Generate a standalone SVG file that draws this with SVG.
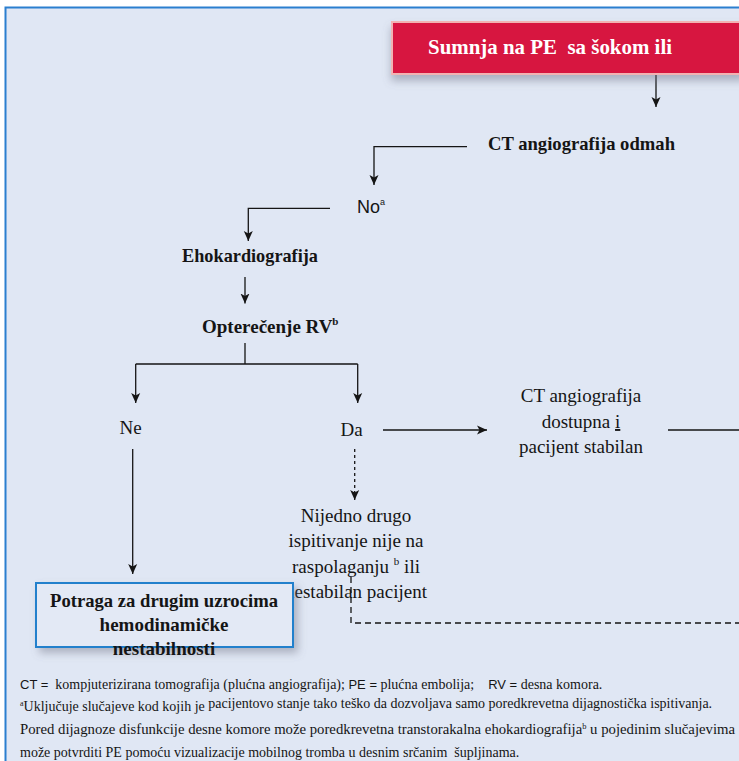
<svg xmlns="http://www.w3.org/2000/svg" width="739" height="761" viewBox="0 0 739 761">
<style>
.b{font-family:'Liberation Serif','DejaVu Serif','Noto Serif',serif;font-weight:bold;font-size:19px;fill:#151515}
.r{font-family:'Liberation Serif','DejaVu Serif','Noto Serif',serif;font-size:19px;fill:#151515}
.s{font-family:'Liberation Sans',Arial,sans-serif;fill:#151515}
.f{font-family:'Liberation Serif','DejaVu Serif','Noto Serif',serif;font-size:14px;fill:#151515}
.fs{font-family:'Liberation Sans',Arial,sans-serif;font-size:13px}
.ln{fill:none;stroke:#151515;stroke-width:1.3}
.ar{marker-end:url(#ah)}
</style>
<defs>
<marker id="ah" markerUnits="userSpaceOnUse" markerWidth="10" markerHeight="10" refX="10" refY="5" orient="auto">
<path d="M0,0.5 L10,5 L0,9.5 L2.5,5 z" fill="#151515"/>
</marker>
<filter id="sh1" x="-10%" y="-30%" width="130%" height="180%">
<feDropShadow dx="0" dy="6" stdDeviation="4" flood-color="#6a7080" flood-opacity="0.45"/>
</filter>
<filter id="sh2" x="-10%" y="-20%" width="130%" height="160%">
<feDropShadow dx="4" dy="5" stdDeviation="4" flood-color="#6a7080" flood-opacity="0.45"/>
</filter>
</defs>
<rect x="0" y="0" width="739" height="761" fill="#ffffff"/>
<rect id="panel" x="5.5" y="7.5" width="740" height="760" fill="#E0E7F4" stroke="#2B7FCF" stroke-width="2"/>

<g id="connectors">
<line class="ln ar" x1="656" y1="75" x2="656" y2="107"/>
<path class="ln ar" d="M467,146.7 H374 V185"/>
<path class="ln ar" d="M330,208.3 H248.3 V241"/>
<line class="ln ar" x1="245" y1="277" x2="245" y2="303.5"/>
<path class="ln" d="M245,343 V364 M135.7,364 H357.7"/>
<line class="ln ar" x1="135.7" y1="364" x2="135.7" y2="403"/>
<line class="ln ar" x1="357.7" y1="364" x2="357.7" y2="403"/>
<line class="ln ar" x1="383" y1="430" x2="487" y2="430"/>
<line class="ln" x1="668" y1="430" x2="739" y2="430"/>
<line class="ln ar" x1="354.7" y1="449" x2="354.7" y2="500" stroke-dasharray="3,3"/>
<line class="ln ar" x1="132.7" y1="449" x2="132.7" y2="574"/>
<path class="ln" d="M351,577 V623 H739" stroke-dasharray="6,4"/>
</g>

<g id="n-start">
<rect x="392" y="22" width="352" height="52" fill="#D7163F" stroke="#F2B3B3" stroke-width="2" filter="url(#sh1)"/>
<text class="b" x="428" y="54" style="fill:#ffffff;font-size:22px" textLength="244" lengthAdjust="spacingAndGlyphs">Sumnja na PE&#160; sa šokom ili</text>
</g>

<g id="n-ct-odmah">
<text class="b" x="488" y="150" textLength="187" lengthAdjust="spacingAndGlyphs">CT angiografija odmah</text>
</g>

<g id="n-no">
<text class="s" x="357" y="213" font-size="18">No<tspan font-size="9" dy="-8">a</tspan></text>
</g>

<g id="n-eho">
<text class="b" x="182" y="262" textLength="136" lengthAdjust="spacingAndGlyphs">Ehokardiografija</text>
</g>

<g id="n-rv">
<text class="b" x="202" y="333">Opterečenje RV<tspan font-size="11" dy="-8">b</tspan></text>
</g>

<g id="n-ne">
<text class="r" x="130.6" y="434" text-anchor="middle">Ne</text>
</g>

<g id="n-da">
<text class="r" x="351.6" y="436" text-anchor="middle">Da</text>
</g>

<g id="n-ct-dostupna">
<text class="r" x="581" y="402" text-anchor="middle">CT angiografija</text>
<text class="r" x="581" y="428" text-anchor="middle">dostupna <tspan text-decoration="underline">i</tspan></text>
<text class="r" x="581" y="453" text-anchor="middle">pacijent stabilan</text>
</g>

<g id="n-nijedno">
<text class="r" x="356" y="522" text-anchor="middle">Nijedno drugo</text>
<text class="r" x="356" y="547" text-anchor="middle">ispitivanje nije na</text>
<text class="r" x="356" y="573" text-anchor="middle">raspolaganju <tspan font-size="11" dy="-8">b</tspan><tspan dy="8"> ili</tspan></text>
<text class="r" x="356" y="598" text-anchor="middle">nestabilan pacijent</text>
</g>

<g id="n-potraga">
<rect x="36" y="583" width="257" height="64" fill="#E3E9F5" stroke="#2080CC" stroke-width="2" filter="url(#sh2)"/>
<text class="b" x="164" y="607" text-anchor="middle" textLength="228" lengthAdjust="spacingAndGlyphs">Potraga za drugim uzrocima</text>
<text class="b" x="164" y="631" text-anchor="middle">hemodinamičke</text>
<text class="b" x="164" y="655" text-anchor="middle">nestabilnosti</text>
</g>

<g id="notes">
<text class="f" x="20" y="689"><tspan class="fs">CT =</tspan>&#160; kompjuterizirana tomografija (plućna angiografija); <tspan class="fs">PE =</tspan> plućna embolija;&#160;&#160;&#160; <tspan class="fs">RV =</tspan> desna komora.</text>
<text class="f" x="20" y="711"><tspan font-size="8" dy="-5">a</tspan><tspan dy="5">Uključuje slučajeve kod kojih je </tspan><tspan dy="-3">pacijentovo stanje tako teško da dozvoljava samo poredkrevetna dijagnostička ispitivanja.</tspan></text>
<text class="f" x="20" y="734" textLength="715" lengthAdjust="spacingAndGlyphs">Pored dijagnoze disfunkcije desne komore može poredkrevetna transtorakalna ehokardiografija<tspan font-size="8" dy="-5">b</tspan><tspan dy="5"> u pojedinim slučajevima</tspan></text>
<text class="f" x="20" y="757">može potvrditi PE pomoću vizualizacije mobilnog tromba u desnim srčanim&#160; šupljinama.</text>
</g>
</svg>
